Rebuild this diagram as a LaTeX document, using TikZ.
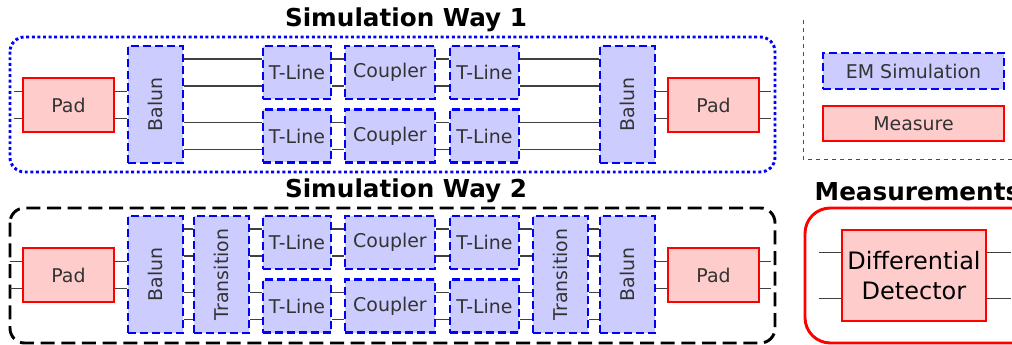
\documentclass[tikz,border=0pt]{standalone}
\usepackage{graphicx}
\usepackage{fontspec}
\setmainfont{DejaVu Sans}
\usetikzlibrary{positioning}
\definecolor{SimFill}{HTML}{CCCCFF}
\definecolor{MeasFill}{HTML}{FFCCCC}
\definecolor{Wire}{HTML}{404040}

\begin{document}
\begin{tikzpicture}[x=0.75pt,y=-0.75pt,
    emsim/.style={draw=blue,fill=SimFill,line width=1.6pt,dash pattern=on 6pt off 3pt,inner sep=0pt,text=black!80,font=\fontsize{14.2}{17}\selectfont},
    meas/.style={draw=red,fill=MeasFill,line width=1.6pt,inner sep=0pt,text=black!80,font=\fontsize{14.2}{17}\selectfont},
    tall/.style={minimum width=41.25pt,minimum height=87.75pt},
    tline/.style={minimum width=51.4pt,minimum height=39.75pt},
    coupler/.style={minimum width=67.5pt,minimum height=39.75pt},
    padbox/.style={minimum width=68.25pt,minimum height=40.5pt},
    wire/.style={draw=Wire,line width=0.9pt},
    heading/.style={font=\fontsize{18.5}{22}\selectfont\bfseries}]
        \useasboundingbox (0,0) rectangle (1012,345);
        \clip (0,0) rectangle (1012,345);
        % frames
        \draw[blue,line width=2.2pt,dash pattern=on 2.2pt off 2pt,rounded corners=11pt] (10,37) rectangle (775,172);
        \draw[black,line width=2.2pt,dash pattern=on 10.5pt off 5pt,rounded corners=11pt] (10,208) rectangle (775,343);
        \draw[red,line width=2.2pt,rounded corners=19pt] (805,208) rectangle (1040,343);
        \draw[black!70,dashed,line width=0.6pt] (803,20) -- (803,159) -- (1012,159);
        \node[heading] (way1) at (406,20) {Simulation Way 1};
        \node[heading] (way2) at (406,191) {Simulation Way 2};
        \node[heading,anchor=west] (msr) at (810,192) {Measurements};
        % way 1
        \node[meas,padbox] (pad1) at (68.5,105) {Pad};
        \node[emsim,tall] (bal1) at (155.5,104.5) {\rotatebox{90}{Balun}};
        \node[emsim,tline] (tl1) at (297,72.5) {T-Line};
        \node[emsim,tline] (tl2) at (297,136) {T-Line};
        \node[emsim,coupler] (cp1) at (390,72.5) {Coupler};
        \node[emsim,coupler] (cp2) at (390,136) {Coupler};
        \node[emsim,tline] (tl3) at (484.5,72.5) {T-Line};
        \node[emsim,tline] (tl4) at (484.5,136) {T-Line};
        \node[emsim,tall] (bal2) at (627.5,104.5) {\rotatebox{90}{Balun}};
        \node[meas,padbox] (pad2) at (713.5,105) {Pad};
        % way 2
        \node[meas,padbox] (pad3) at (68.5,275) {Pad};
        \node[emsim,tall] (bal3) at (155.5,274.5) {\rotatebox{90}{Balun}};
        \node[emsim,tall] (tr1) at (221.5,274.5) {\rotatebox{90}{Transition}};
        \node[emsim,tline] (tl5) at (297,242.5) {T-Line};
        \node[emsim,tline] (tl6) at (297,306) {T-Line};
        \node[emsim,coupler] (cp3) at (390,242.5) {Coupler};
        \node[emsim,coupler] (cp4) at (390,306) {Coupler};
        \node[emsim,tline] (tl7) at (484.5,242.5) {T-Line};
        \node[emsim,tline] (tl8) at (484.5,306) {T-Line};
        \node[emsim,tall] (tr2) at (560.5,274.5) {\rotatebox{90}{Transition}};
        \node[emsim,tall] (bal4) at (627.5,274.5) {\rotatebox{90}{Balun}};
        \node[meas,padbox] (pad4) at (713.5,275) {Pad};
        % legend and measurement
        \node[emsim,minimum width=135.75pt,minimum height=27pt] (lgsim) at (913.5,71) {EM Simulation};
        \node[meas,minimum width=135.75pt,minimum height=26.25pt] (lgmeas) at (913.5,123.5) {Measure};
        \node[meas,text=black,minimum width=108pt,minimum height=68.25pt,align=center,font=\fontsize{18}{22.5}\selectfont] (det) at (914,275.5) {Differential\\Detector};
        % wires
        \foreach \a/\b/\c in {pad1/bal1/pad1,bal1/tl1/tl1,bal1/tl2/tl2,tl1/cp1/tl1,tl2/cp2/tl2,cp1/tl3/tl3,cp2/tl4/tl4,tl3/bal2/tl3,tl4/bal2/tl4,bal2/pad2/pad2,
                              pad3/bal3/pad3,bal3/tr1/tl5,bal3/tr1/tl6,tr1/tl5/tl5,tr1/tl6/tl6,tl5/cp3/tl5,tl6/cp4/tl6,cp3/tl7/tl7,cp4/tl8/tl8,tl7/tr2/tl7,tl8/tr2/tl8,tr2/bal4/tl7,tr2/bal4/tl8,bal4/pad4/pad4} {
          \foreach \o in {10.1pt,-10.1pt}
            \draw[wire] ([yshift=\o]\c.west -| \a.east) -- ([yshift=\o]\c.west -| \b.west);
        }
        \foreach \o in {10.1pt,-10.1pt} {
          \draw[wire] ([yshift=\o]pad1.west) -- ++(-8,0);
          \draw[wire] ([yshift=\o]pad2.east) -- ++(11,0);
          \draw[wire] ([yshift=\o]pad3.west) -- ++(-12,0);
          \draw[wire] ([yshift=\o]pad4.east) -- ++(11,0);
        }
        \foreach \o in {17.25pt,-17.25pt} {
          \draw[wire] ([yshift=\o]det.west) -- ++(-22,0);
          \draw[wire] ([yshift=\o]det.east) -- ++(24,0);
        }
      \end{tikzpicture}
\end{document}
